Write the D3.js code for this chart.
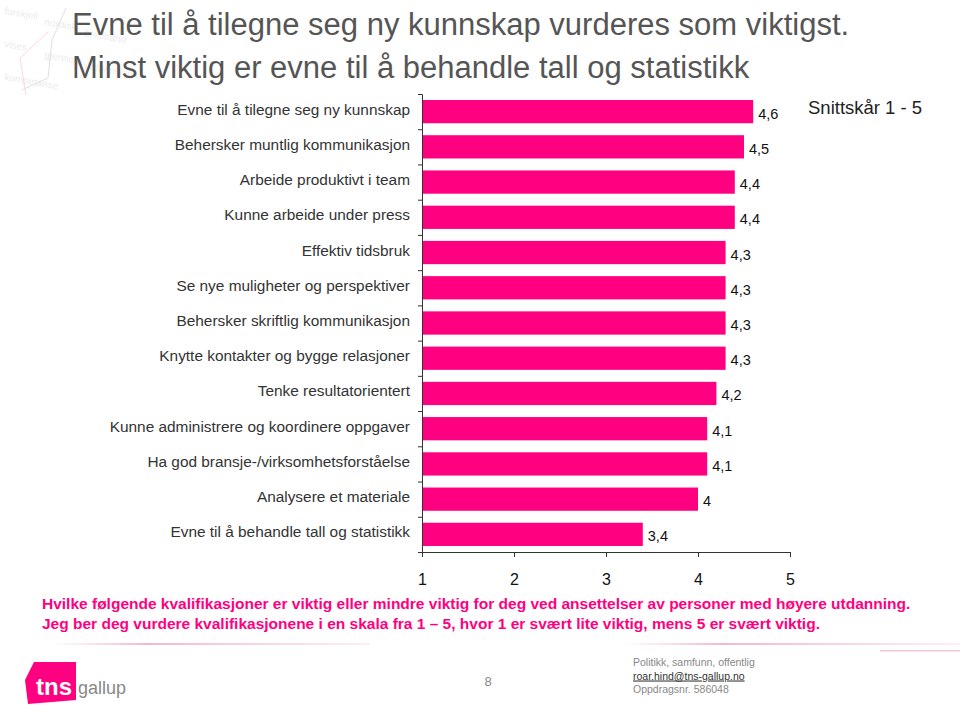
<!DOCTYPE html>
<html><head><meta charset="utf-8">
<script src="https://cdn.jsdelivr.net/npm/d3@7"></script>
<style>body{margin:0;background:#fff;}svg{display:block;font-family:"Liberation Sans",Arial,sans-serif;}</style>
</head><body>
<svg id="c" width="960" height="710"></svg>
<script>
const categories = ["Evne til å tilegne seg ny kunnskap","Behersker muntlig kommunikasjon","Arbeide produktivt i team","Kunne arbeide under press","Effektiv tidsbruk","Se nye muligheter og perspektiver","Behersker skriftlig kommunikasjon","Knytte kontakter og bygge relasjoner","Tenke resultatorientert","Kunne administrere og koordinere oppgaver","Ha god bransje-/virksomhetsforståelse","Analysere et materiale","Evne til å behandle tall og statistikk"];
const values = [4.6,4.5,4.4,4.4,4.3,4.3,4.3,4.3,4.2,4.1,4.1,4.0,3.4];
const valueLabels = ["4,6","4,5","4,4","4,4","4,3","4,3","4,3","4,3","4,2","4,1","4,1","4","3,4"];
const xTicks = [1,2,3,4,5];
const titleLines = ["Evne til å tilegne seg ny kunnskap vurderes som viktigst.","Minst viktig er evne til å behandle tall og statistikk"];
const questionLines = ["Hvilke følgende kvalifikasjoner er viktig eller mindre viktig for deg ved ansettelser av personer med høyere utdanning.","Jeg ber deg vurdere kvalifikasjonene i en skala fra 1 – 5, hvor 1 er svært lite viktig, mens 5 er svært viktig."];
const footerLines = ["Politikk, samfunn, offentlig","roar.hind@tns-gallup.no","Oppdragsnr. 586048"];

const svg = d3.select("#c");
const pink = "#ff0080";

// faint decorative background top-left
const deco = svg.append("g").attr("opacity",0.16);
const decoWords = ["forskjell","nordisk","bredbånd","vises","gjennom","utdannelsen","kompetanse"];
decoWords.forEach((w,i)=>{
  const tx = 4 + (i%3)*40, ty = 14 + i*11;
  deco.append("text").attr("x",tx).attr("y",ty).attr("transform",`rotate(10,${tx},${ty})`)
    .attr("font-size",10).attr("fill","#888").text(w);
});
deco.append("path").attr("d","M66,8 L52,40 L48,78 L22,90").attr("stroke","#444").attr("fill","none");
deco.append("path").attr("d","M48,32 L20,58 L26,95").attr("stroke",pink).attr("fill","none");

// title
svg.append("g").selectAll("text").data(titleLines).join("text")
  .attr("x",72).attr("y",(d,i)=>35+i*43).attr("font-size",31).attr("fill","#555").text(d=>d);

const x = d3.scaleLinear().domain([1,5]).range([422,790]);
const y = d3.scaleBand().domain(categories).range([94,552]).paddingInner(0.34).paddingOuter(0.17);

const g = svg.append("g");
g.selectAll("rect").data(values).join("rect")
  .attr("x",x(1)).attr("y",(d,i)=>y(categories[i]))
  .attr("width",d=>x(d)-x(1)).attr("height",y.bandwidth()).attr("fill",pink);

g.selectAll("text.v").data(values).join("text").attr("class","v")
  .attr("x",d=>x(d)+5).attr("y",(d,i)=>y(categories[i])+y.bandwidth()/2+7)
  .attr("font-size",14.5).attr("fill","#111").text((d,i)=>valueLabels[i]);

// y axis
const yAxis = d3.axisLeft(d3.scaleLinear().domain([0,categories.length]).range([94,552]))
  .ticks(13).tickSize(4).tickFormat("");
const ya = svg.append("g").attr("transform",`translate(${x(1)},0)`).call(yAxis);
ya.select(".domain").attr("stroke","#333");
ya.selectAll(".tick line").attr("stroke","#333");

// category labels
svg.append("g").selectAll("text").data(categories).join("text")
  .attr("x",410).attr("y",d=>y(d)+y.bandwidth()/2+3)
  .attr("text-anchor","end")
  .attr("font-size",15.4).attr("fill","#333").text(d=>d);

// x axis
const xa = svg.append("g").attr("transform",`translate(0,552)`).call(d3.axisBottom(x).tickValues(xTicks).tickSize(5).tickSizeOuter(0).tickFormat(d3.format("d")));
xa.select(".domain").attr("stroke","#333");
xa.selectAll(".tick line").attr("stroke","#333");
xa.selectAll(".tick text").attr("font-size",16).attr("fill","#111").attr("dy","1.55em").attr("font-family","Liberation Sans, Arial, sans-serif");

svg.append("text").attr("x",808).attr("y",114).attr("font-size",18.5).attr("fill","#222").text("Snittskår 1 - 5");

// question
svg.append("g").selectAll("text").data(questionLines).join("text")
  .attr("x",42).attr("y",(d,i)=>609+i*20).attr("font-size",15.5).attr("font-weight","bold").attr("fill",pink).text(d=>d);

// footer lines
const defs = svg.append("defs");
const lg = defs.append("linearGradient").attr("id","fl");
lg.append("stop").attr("offset","0%").attr("stop-color","#f7c6dc").attr("stop-opacity",0);
lg.append("stop").attr("offset","30%").attr("stop-color","#f5b5d0");
lg.append("stop").attr("offset","100%").attr("stop-color","#f7c6dc").attr("stop-opacity",0.3);
svg.append("rect").attr("x",50).attr("y",643).attr("width",320).attr("height",2).attr("fill","url(#fl)");
svg.append("rect").attr("x",620).attr("y",643).attr("width",340).attr("height",2).attr("fill","url(#fl)");
svg.append("rect").attr("x",880).attr("y",650).attr("width",80).attr("height",1.5).attr("fill","#f5c6da");

// logo
svg.append("path").attr("d","M34,662 L76,662 L76,700 L28,704 L25,680 Z").attr("fill",pink);
svg.append("text").attr("x",36).attr("y",695).attr("font-size",24).attr("font-weight","bold").attr("fill","#fff").text("tns");
svg.append("text").attr("x",78).attr("y",694).attr("font-size",18).attr("fill","#888").text("gallup");

svg.append("text").attr("x",488).attr("y",686).attr("text-anchor","middle").attr("font-size",13).attr("fill","#888").text("8");
svg.append("g").selectAll("text").data(footerLines).join("text")
  .attr("x",633).attr("y",(d,i)=>666+i*13.5).attr("font-size",10.5).attr("fill",(d,i)=>i===1?"#333":"#888")
  .attr("text-decoration",(d,i)=>i===1?"underline":null).text(d=>d);
</script>
</body></html>
